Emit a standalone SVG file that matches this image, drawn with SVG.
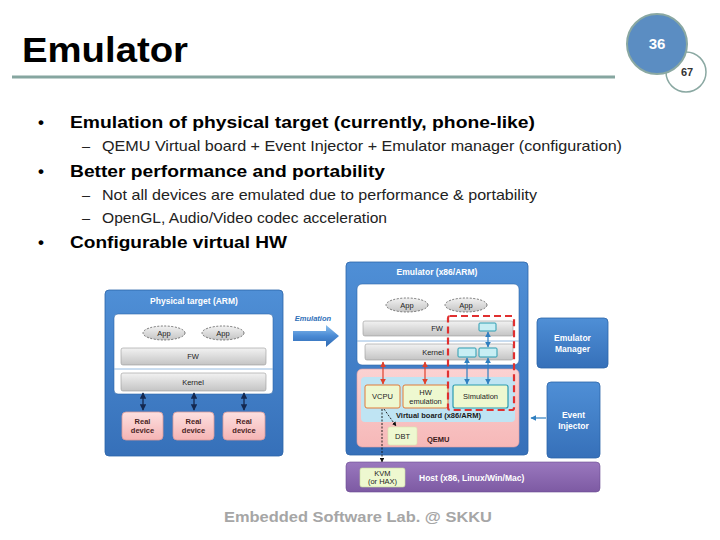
<svg xmlns="http://www.w3.org/2000/svg" width="720" height="540" viewBox="0 0 720 540">
<defs>
<linearGradient id="gBlue" x1="0" y1="0" x2="0" y2="1"><stop offset="0" stop-color="#4f8fd6"/><stop offset="1" stop-color="#3670b9"/></linearGradient>
<linearGradient id="gGray" x1="0" y1="0" x2="0" y2="1"><stop offset="0" stop-color="#f2f2f2"/><stop offset="1" stop-color="#c4c4c4"/></linearGradient>
<linearGradient id="gPink" x1="0" y1="0" x2="0" y2="1"><stop offset="0" stop-color="#fde0e0"/><stop offset="1" stop-color="#f5b4b4"/></linearGradient>
<linearGradient id="gQemu" x1="0" y1="0" x2="0" y2="1"><stop offset="0" stop-color="#fbd2d2"/><stop offset="1" stop-color="#f6b8b8"/></linearGradient>
<linearGradient id="gPurple" x1="0" y1="0" x2="0" y2="1"><stop offset="0" stop-color="#9a78be"/><stop offset="1" stop-color="#7d5aa3"/></linearGradient>
<linearGradient id="gArrow" x1="0" y1="0" x2="0" y2="1"><stop offset="0" stop-color="#8cc0ee"/><stop offset="0.5" stop-color="#4a8ad4"/><stop offset="1" stop-color="#2e68b0"/></linearGradient>
<marker id="aNavy" viewBox="0 0 10 10" refX="9" refY="5" markerWidth="5" markerHeight="5" orient="auto-start-reverse"><path d="M0,0 L10,5 L0,10 z" fill="#142850"/></marker>
<marker id="aRed" viewBox="0 0 10 10" refX="9" refY="5" markerWidth="5" markerHeight="5" orient="auto-start-reverse"><path d="M0,0 L10,5 L0,10 z" fill="#e0402c"/></marker>
<marker id="aBlue" viewBox="0 0 10 10" refX="9" refY="5" markerWidth="5" markerHeight="5" orient="auto-start-reverse"><path d="M0,0 L10,5 L0,10 z" fill="#2f7fc0"/></marker>
<marker id="aBlack" viewBox="0 0 10 10" refX="9" refY="5" markerWidth="5" markerHeight="5" orient="auto"><path d="M0,0 L10,5 L0,10 z" fill="#111"/></marker>
</defs>
<style>
.sans{font-family:"Liberation Sans",Arial,sans-serif}
.title{font-family:"Liberation Sans",Arial,sans-serif;font-weight:bold;font-size:35px;fill:#000}
.b1{font-family:"Liberation Sans",Arial,sans-serif;font-weight:bold;font-size:17px;fill:#000}
.b2{font-family:"Liberation Sans",Arial,sans-serif;font-size:14.5px;fill:#222}
.wt{font-family:"Liberation Sans",Arial,sans-serif;font-weight:bold;font-size:8.5px;fill:#fff;text-anchor:middle}
.dk{font-family:"Liberation Sans",Arial,sans-serif;font-size:7.5px;fill:#222;text-anchor:middle}
.dkb{font-family:"Liberation Sans",Arial,sans-serif;font-weight:bold;font-size:7.5px;fill:#4a1e1e;text-anchor:middle}
.bar{fill:url(#gGray);stroke:#999;stroke-width:0.6}
.app{fill:url(#gGray);stroke:#555;stroke-width:0.8;stroke-dasharray:2,1.5}
.blue{fill:url(#gBlue);stroke:#2c64a8;stroke-width:0.8}
.cyan{fill:#c8eef4;stroke:#2b9bb0;stroke-width:1}
</style>

<g id="header">
<text class="title" x="22" y="62" textLength="166" lengthAdjust="spacingAndGlyphs">Emulator</text>
<line x1="12" y1="77" x2="615" y2="77" stroke="#86a6a0" stroke-width="3"/>
<circle cx="686" cy="72" r="20" fill="#fff" stroke="#8aa8a2" stroke-width="1.5"/>
<circle cx="657" cy="44" r="30" fill="#5b8dc2" stroke="#8aa8a2" stroke-width="2"/>
<text class="sans" x="657" y="49" font-size="15" font-weight="bold" fill="#fff" text-anchor="middle">36</text>
<text class="sans" x="687" y="76" font-size="11" font-weight="bold" fill="#333" text-anchor="middle">67</text>
</g>

<g id="bullets">
<text class="b1" x="38" y="128">•</text>
<text class="b1" x="70" y="128" textLength="465" lengthAdjust="spacingAndGlyphs">Emulation of physical target (currently, phone-like)</text>
<text class="b2" x="82" y="151">–</text>
<text class="b2" x="102" y="151" textLength="520" lengthAdjust="spacingAndGlyphs">QEMU Virtual board + Event Injector + Emulator manager (configuration)</text>
<text class="b1" x="38" y="177">•</text>
<text class="b1" x="70" y="177" textLength="315" lengthAdjust="spacingAndGlyphs">Better performance and portability</text>
<text class="b2" x="82" y="200">–</text>
<text class="b2" x="102" y="200" textLength="435" lengthAdjust="spacingAndGlyphs">Not all devices are emulated due to performance &amp; portability</text>
<text class="b2" x="82" y="223">–</text>
<text class="b2" x="102" y="223" textLength="285" lengthAdjust="spacingAndGlyphs">OpenGL, Audio/Video codec acceleration</text>
<text class="b1" x="38" y="248">•</text>
<text class="b1" x="70" y="248" textLength="217" lengthAdjust="spacingAndGlyphs">Configurable virtual HW</text>
</g>

<g id="physical-target">
<rect x="105" y="290" width="178" height="166" rx="4" class="blue"/>
<text class="wt" x="194" y="304">Physical target (ARM)</text>
<rect x="114" y="314" width="159" height="80" rx="4" fill="#fff" stroke="#2c64a8" stroke-width="0.6"/>
<line x1="114" y1="369" x2="273" y2="369" stroke="#7aa8d8" stroke-width="0.8"/>
<ellipse cx="164" cy="333" rx="21" ry="7" class="app"/>
<text class="dk" x="164" y="336">App</text>
<ellipse cx="223" cy="333" rx="21" ry="7" class="app"/>
<text class="dk" x="223" y="336">App</text>
<rect x="121" y="348" width="145" height="17" rx="2" class="bar"/>
<text class="dk" x="193" y="359">FW</text>
<rect x="121" y="373" width="145" height="18" rx="2" class="bar"/>
<text class="dk" x="193" y="385">Kernel</text>
</g>

<g id="real-devices">
<rect x="122" y="412" width="41" height="28" rx="4" fill="url(#gPink)" stroke="#d99a9a" stroke-width="0.8"/>
<text class="dkb" x="142.5" y="424">Real</text><text class="dkb" x="142.5" y="433">device</text>
<rect x="173" y="412" width="41" height="28" rx="4" fill="url(#gPink)" stroke="#d99a9a" stroke-width="0.8"/>
<text class="dkb" x="193.5" y="424">Real</text><text class="dkb" x="193.5" y="433">device</text>
<rect x="223" y="412" width="42" height="28" rx="4" fill="url(#gPink)" stroke="#d99a9a" stroke-width="0.8"/>
<text class="dkb" x="244" y="424">Real</text><text class="dkb" x="244" y="433">device</text>
</g>

<g id="emulation-arrow">
<text class="sans" x="313" y="321" font-size="7.5" font-weight="bold" font-style="italic" fill="#2f6fb8" text-anchor="middle">Emulation</text>
<path d="M293,331 L326,331 L326,325 L339,336 L326,347 L326,341 L293,341 z" fill="url(#gArrow)"/>
</g>

<g id="emulator">
<rect x="346" y="262" width="182" height="193" rx="4" class="blue"/>
<text class="wt" x="437" y="275">Emulator (x86/ARM)</text>
<rect x="357" y="284" width="162" height="81" rx="5" fill="#fff" stroke="#2c64a8" stroke-width="0.6"/>
<line x1="357" y1="341" x2="519" y2="341" stroke="#7aa8d8" stroke-width="0.8"/>
<ellipse cx="407" cy="305" rx="21" ry="7" class="app"/>
<text class="dk" x="407" y="308">App</text>
<ellipse cx="466" cy="305" rx="21" ry="7" class="app"/>
<text class="dk" x="466" y="308">App</text>
<rect x="363" y="321" width="150" height="15" rx="2" class="bar"/>
<text class="dk" x="437" y="331">FW</text>
<rect x="365" y="344" width="148" height="16" rx="2" class="bar"/>
<text class="dk" x="433" y="355">Kernel</text>
<rect x="479" y="323" width="17" height="8" rx="1" class="cyan"/>
<rect x="458" y="348" width="18" height="9" rx="1" class="cyan"/>
<rect x="479" y="348" width="18" height="9" rx="1" class="cyan"/>
</g>

<g id="qemu">
<rect x="357" y="369" width="162" height="78" rx="5" fill="url(#gQemu)" stroke="#e8a0a0" stroke-width="0.6"/>
<rect x="361" y="377" width="154" height="45" rx="4" fill="#bfe4f3"/>
<text class="sans" x="396" y="418" font-size="7.5" font-weight="bold" fill="#1a1a1a">Virtual board (x86/ARM)</text>
<text class="sans" x="427" y="442" font-size="7.5" font-weight="bold" fill="#3a1a1a">QEMU</text>
</g>

<g id="vcpu">
<rect x="365" y="385" width="35" height="23" rx="2" fill="#eef8d0" stroke="#e07a3a" stroke-width="1"/>
<text class="dk" x="382.5" y="399">VCPU</text>
</g>
<g id="hw-emulation">
<rect x="403" y="385" width="45" height="23" rx="2" fill="#eef8d0" stroke="#e07a3a" stroke-width="1"/>
<text class="dk" x="425.5" y="395">HW</text><text class="dk" x="425.5" y="404">emulation</text>
</g>
<g id="simulation">
<rect x="453" y="385" width="55" height="23" rx="2" fill="#eef8d0" stroke="#2b9bb0" stroke-width="1.2"/>
<text class="dk" x="480.5" y="399">Simulation</text>
</g>
<g id="dbt">
<rect x="388" y="427" width="29" height="18" rx="2" fill="#eef8d0" stroke="#d8e8b0" stroke-width="0.6"/>
<text class="dk" x="402.5" y="439">DBT</text>
</g>

<g id="red-dashed">
<rect x="448" y="316" width="66" height="94" rx="2" fill="none" stroke="#e03030" stroke-width="2.2" stroke-dasharray="7,4"/>
</g>

<g id="host">
<rect x="346" y="462" width="254" height="30" rx="4" fill="url(#gPurple)" stroke="#6a4a90" stroke-width="0.6"/>
<text class="sans" x="419" y="481" font-size="8.5" font-weight="bold" fill="#fff">Host (x86, Linux/Win/Mac)</text>
</g>
<g id="kvm">
<rect x="360" y="468" width="45" height="19" rx="2" fill="#eef8d0" stroke="#c8dca0" stroke-width="0.6"/>
<text class="dk" x="382.5" y="476">KVM</text><text class="dk" x="382.5" y="484">(or HAX)</text>
</g>

<g id="emulator-manager">
<rect x="537" y="318" width="71" height="50" rx="4" class="blue"/>
<text class="wt" x="572.5" y="341">Emulator</text><text class="wt" x="572.5" y="352">Manager</text>
</g>
<g id="event-injector">
<rect x="547" y="382" width="53" height="76" rx="4" class="blue"/>
<text class="wt" x="573.5" y="418">Event</text><text class="wt" x="573.5" y="429">Injector</text>
</g>

<g id="connectors" fill="none">
<line x1="143" y1="393" x2="143" y2="410" stroke="#142850" stroke-width="1.3" marker-start="url(#aNavy)" marker-end="url(#aNavy)"/>
<line x1="194" y1="393" x2="194" y2="410" stroke="#142850" stroke-width="1.3" marker-start="url(#aNavy)" marker-end="url(#aNavy)"/>
<line x1="244" y1="393" x2="244" y2="410" stroke="#142850" stroke-width="1.3" marker-start="url(#aNavy)" marker-end="url(#aNavy)"/>
<line x1="383" y1="362" x2="383" y2="384" stroke="#e0402c" stroke-width="1.2" marker-start="url(#aRed)" marker-end="url(#aRed)"/>
<line x1="425" y1="362" x2="425" y2="384" stroke="#e0402c" stroke-width="1.2" marker-start="url(#aRed)" marker-end="url(#aRed)"/>
<line x1="467" y1="358" x2="467" y2="384" stroke="#2f7fc0" stroke-width="1.2" marker-start="url(#aBlue)" marker-end="url(#aBlue)"/>
<line x1="488" y1="358" x2="488" y2="384" stroke="#2f7fc0" stroke-width="1.2" marker-start="url(#aBlue)" marker-end="url(#aBlue)"/>
<line x1="488" y1="332" x2="488" y2="347" stroke="#2f7fc0" stroke-width="1.2" marker-start="url(#aBlue)" marker-end="url(#aBlue)"/>
<line x1="382" y1="409" x2="382" y2="462" stroke="#111" stroke-width="0.9" stroke-dasharray="2,1.5" marker-end="url(#aBlack)"/>
<line x1="384" y1="409" x2="396" y2="426" stroke="#111" stroke-width="0.9" stroke-dasharray="2,1.5" marker-end="url(#aBlack)"/>
<line x1="546" y1="418" x2="531" y2="418" stroke="#2f7fc0" stroke-width="1.2" marker-end="url(#aBlue)"/>
</g>

<g id="footer">
<text class="sans" x="358" y="522" font-size="15" font-weight="bold" fill="#a6a6a6" text-anchor="middle" textLength="268" lengthAdjust="spacingAndGlyphs">Embedded Software Lab. @ SKKU</text>
</g>
</svg>
